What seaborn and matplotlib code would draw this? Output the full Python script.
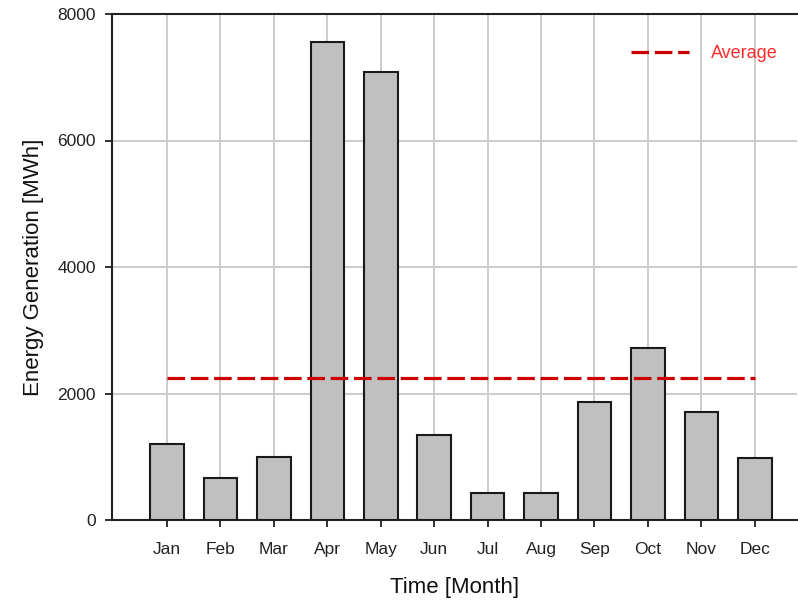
import pandas as pd
import seaborn as sns
import matplotlib.pyplot as plt
import numpy as np

months = ['Jan', 'Feb', 'Mar', 'Apr', 'May', 'Jun',
          'Jul', 'Aug', 'Sep', 'Oct', 'Nov', 'Dec']
energy = [1200, 660, 1000, 7560, 7080, 1350, 432, 432, 1866, 2714, 1708, 975]

sns.set_style('white')
plt.rcParams['font.family'] = ['Liberation Sans', 'DejaVu Sans']
plt.rcParams['font.size'] = 13

df = pd.DataFrame({'month': months, 'energy': energy})
avg = np.mean(energy)

fig = plt.figure(figsize=(7.98, 6.08), dpi=100)
ax = fig.add_axes([112 / 798, 88 / 608, (797 - 112) / 798, (520 - 14) / 608])

sns.barplot(data=df, x='month', y='energy', color='#c0c0c0', edgecolor='#1a1a1a',
            linewidth=1.5, width=0.63, saturation=1, ax=ax, zorder=3)

# average line across all months
ax.plot([0, len(months) - 1], [avg, avg], color='#cc0000', linewidth=2.3,
        dashes=(5.5, 1.8), label='Average', zorder=4)

ax.set_ylim(0, 8000)
ax.set_xlim(-1.03, 11.79)
ax.set_yticks([0, 2000, 4000, 6000, 8000])
ax.grid(True, color='#cccccc', linewidth=1.4, zorder=0)
ax.set_axisbelow(True)

for side in ['left', 'top', 'bottom']:
    ax.spines[side].set_color('#222222')
    ax.spines[side].set_linewidth(1.5)
ax.spines['right'].set_visible(False)

ax.tick_params(axis='y', direction='out', length=5, width=1.3, color='#222222',
               pad=6.5, labelsize=12.5, left=True, labelcolor='#222222')
ax.tick_params(axis='x', direction='out', length=5, width=1.3, color='#222222',
               pad=11, labelsize=12.5, bottom=True, labelcolor='#222222')

ax.set_xlabel('Time [Month]', fontsize=16, labelpad=14, color='#111111')
ax.set_ylabel('Energy Generation [MWh]', fontsize=16, labelpad=10, color='#111111')

leg = ax.legend(loc='upper right', frameon=False, fontsize=13, handlelength=3.2,
                bbox_to_anchor=(0.995, 0.97), handletextpad=1.2)
for t in leg.get_texts():
    t.set_color('#ff2a2a')

fig.savefig('out.png', dpi=100)
